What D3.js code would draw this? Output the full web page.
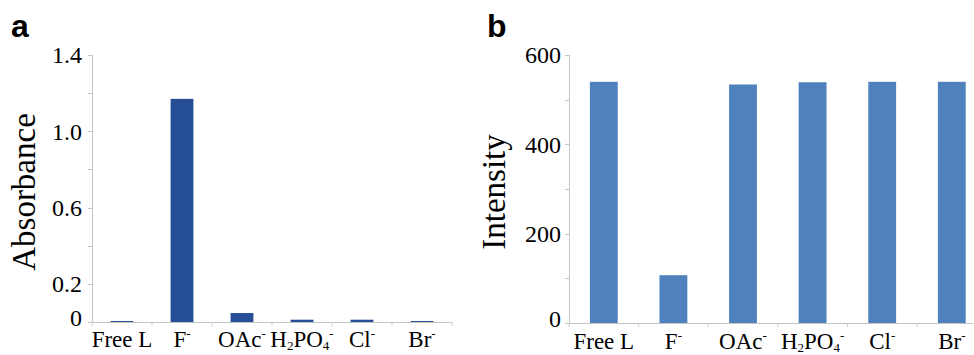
<!DOCTYPE html>
<html>
<head>
<meta charset="utf-8">
<script src="https://cdn.jsdelivr.net/npm/d3@7"></script>
<style>
  body { margin: 0; background: #fff; }
  svg { display: block; }
  .serif { font-family: "Liberation Serif", "Times New Roman", Times, serif; }
  .sans { font-family: "Liberation Sans", Arial, Helvetica, sans-serif; }
</style>
</head>
<body>
<div id="chart"></div>
<script>
// label segments: [text, kind]  kind: "" normal, "sup", "sub"
var categories = [
  [["Free L", ""]],
  [["F", ""], ["-", "sup"]],
  [["OAc", ""], ["-", "sup"]],
  [["H", ""], ["2", "sub"], ["PO", ""], ["4", "sub"], ["-", "sup"]],
  [["Cl", ""], ["-", "sup"]],
  [["Br", ""], ["-", "sup"]]
];
var absorbance = [0.005, 1.17, 0.047, 0.012, 0.012, 0.005];
var intensity = [540, 107, 534, 539, 540, 540];
var absTicks = [0, 0.2, 0.4, 0.6, 0.8, 1.0, 1.2, 1.4];
var absLabels = [0, 0.2, 0.6, 1.0, 1.4];
var intTicks = [0, 100, 200, 300, 400, 500, 600];
var intLabels = [0, 200, 400, 600];

var svg = d3.select("#chart").append("svg")
  .attr("width", 974)
  .attr("height", 355);

function drawPanel(opt) {
  var g = svg.append("g");
  var idx = d3.range(categories.length);

  var x = d3.scaleBand()
    .domain(idx)
    .range([opt.left, opt.left + opt.band * categories.length])
    .paddingInner(opt.pad)
    .paddingOuter(opt.pad / 2);

  var y = d3.scaleLinear()
    .domain([0, opt.max])
    .range([opt.bottom, opt.top]);

  // y axis line + minor ticks
  g.append("line")
    .attr("x1", opt.left + 0.5).attr("x2", opt.left + 0.5)
    .attr("y1", y(opt.max)).attr("y2", y(0))
    .attr("stroke", "#c4c4c4").attr("stroke-width", 1);

  g.selectAll(".yt").data(opt.ticks).enter().append("line")
    .attr("x1", opt.left - 4).attr("x2", opt.left)
    .attr("y1", function(d) { return Math.round(y(d)) + 0.5; })
    .attr("y2", function(d) { return Math.round(y(d)) + 0.5; })
    .attr("stroke", "#c4c4c4");

  g.selectAll(".yl").data(opt.labels).enter().append("text")
    .attr("class", "serif")
    .attr("x", opt.left - opt.gap)
    .attr("y", function(d) { return y(d) + (d === 0 ? -4 : 0); })
    .attr("dy", "0.35em")
    .attr("text-anchor", "end")
    .style("font-size", "24px")
    .text(function(d) { return opt.fmt(d); });

  // bars
  g.selectAll(".bar").data(opt.values).enter().append("rect")
    .attr("x", function(d, i) { return x(i); })
    .attr("y", function(d) { return y(d); })
    .attr("width", x.bandwidth())
    .attr("height", function(d) { return y(0) - y(d); })
    .attr("fill", opt.color);

  // x axis line + ticks between bands
  g.append("line")
    .attr("x1", opt.left).attr("x2", Math.min(opt.left + opt.band * categories.length, 973))
    .attr("y1", y(0) + 0.5).attr("y2", y(0) + 0.5)
    .attr("stroke", "#c4c4c4");

  g.selectAll(".xt").data(d3.range(categories.length + 1)).enter().append("line")
    .attr("x1", function(i) { return opt.left + i * opt.band; })
    .attr("x2", function(i) { return opt.left + i * opt.band; })
    .attr("y1", y(0)).attr("y2", y(0) + 4)
    .attr("stroke", "#d0d0d0");

  var labels = g.selectAll(".xl").data(categories).enter().append("text")
    .attr("class", "serif")
    .attr("x", function(d, i) { return x(i) + x.bandwidth() / 2; })
    .attr("y", opt.labelY)
    .attr("text-anchor", "middle")
    .style("font-size", "23px");

  labels.each(function(parts) {
    var t = d3.select(this);
    var shift = 0;
    parts.forEach(function(p) {
      var target = p[1] === "sup" ? -9 : (p[1] === "sub" ? 3 : 0);
      t.append("tspan")
        .attr("dy", target - shift)
        .style("font-size", p[1] ? "13px" : null)
        .text(p[0]);
      shift = target;
    });
  });

  // axis title
  g.append("text")
    .attr("class", "serif")
    .attr("transform", "translate(" + opt.titleX + "," + opt.titleY + ") rotate(-90)")
    .attr("text-anchor", "middle")
    .style("font-size", "33px")
    .text(opt.title);

  // panel letter
  g.append("text")
    .attr("class", "sans")
    .attr("x", opt.letterX).attr("y", 37)
    .style("font-weight", "bold")
    .style("font-size", "32px")
    .text(opt.letter);
}

drawPanel({
  left: 92, band: 60, pad: 0.62, top: 55, bottom: 322,
  max: 1.4, ticks: absTicks, labels: absLabels, gap: 10,
  fmt: function(d) { return d === 0 ? "0" : d3.format(".1f")(d); },
  values: absorbance, color: "#264e96", labelY: 347,
  title: "Absorbance", titleX: 35, titleY: 192,
  letter: "a", letterX: 11
});

drawPanel({
  left: 569, band: 69.6, pad: 0.6, top: 55, bottom: 323,
  max: 600, ticks: intTicks, labels: intLabels, gap: 8,
  fmt: function(d) { return String(d); },
  values: intensity, color: "#4f81bd", labelY: 349,
  title: "Intensity", titleX: 505, titleY: 192,
  letter: "b", letterX: 487
});
</script>
</body>
</html>
